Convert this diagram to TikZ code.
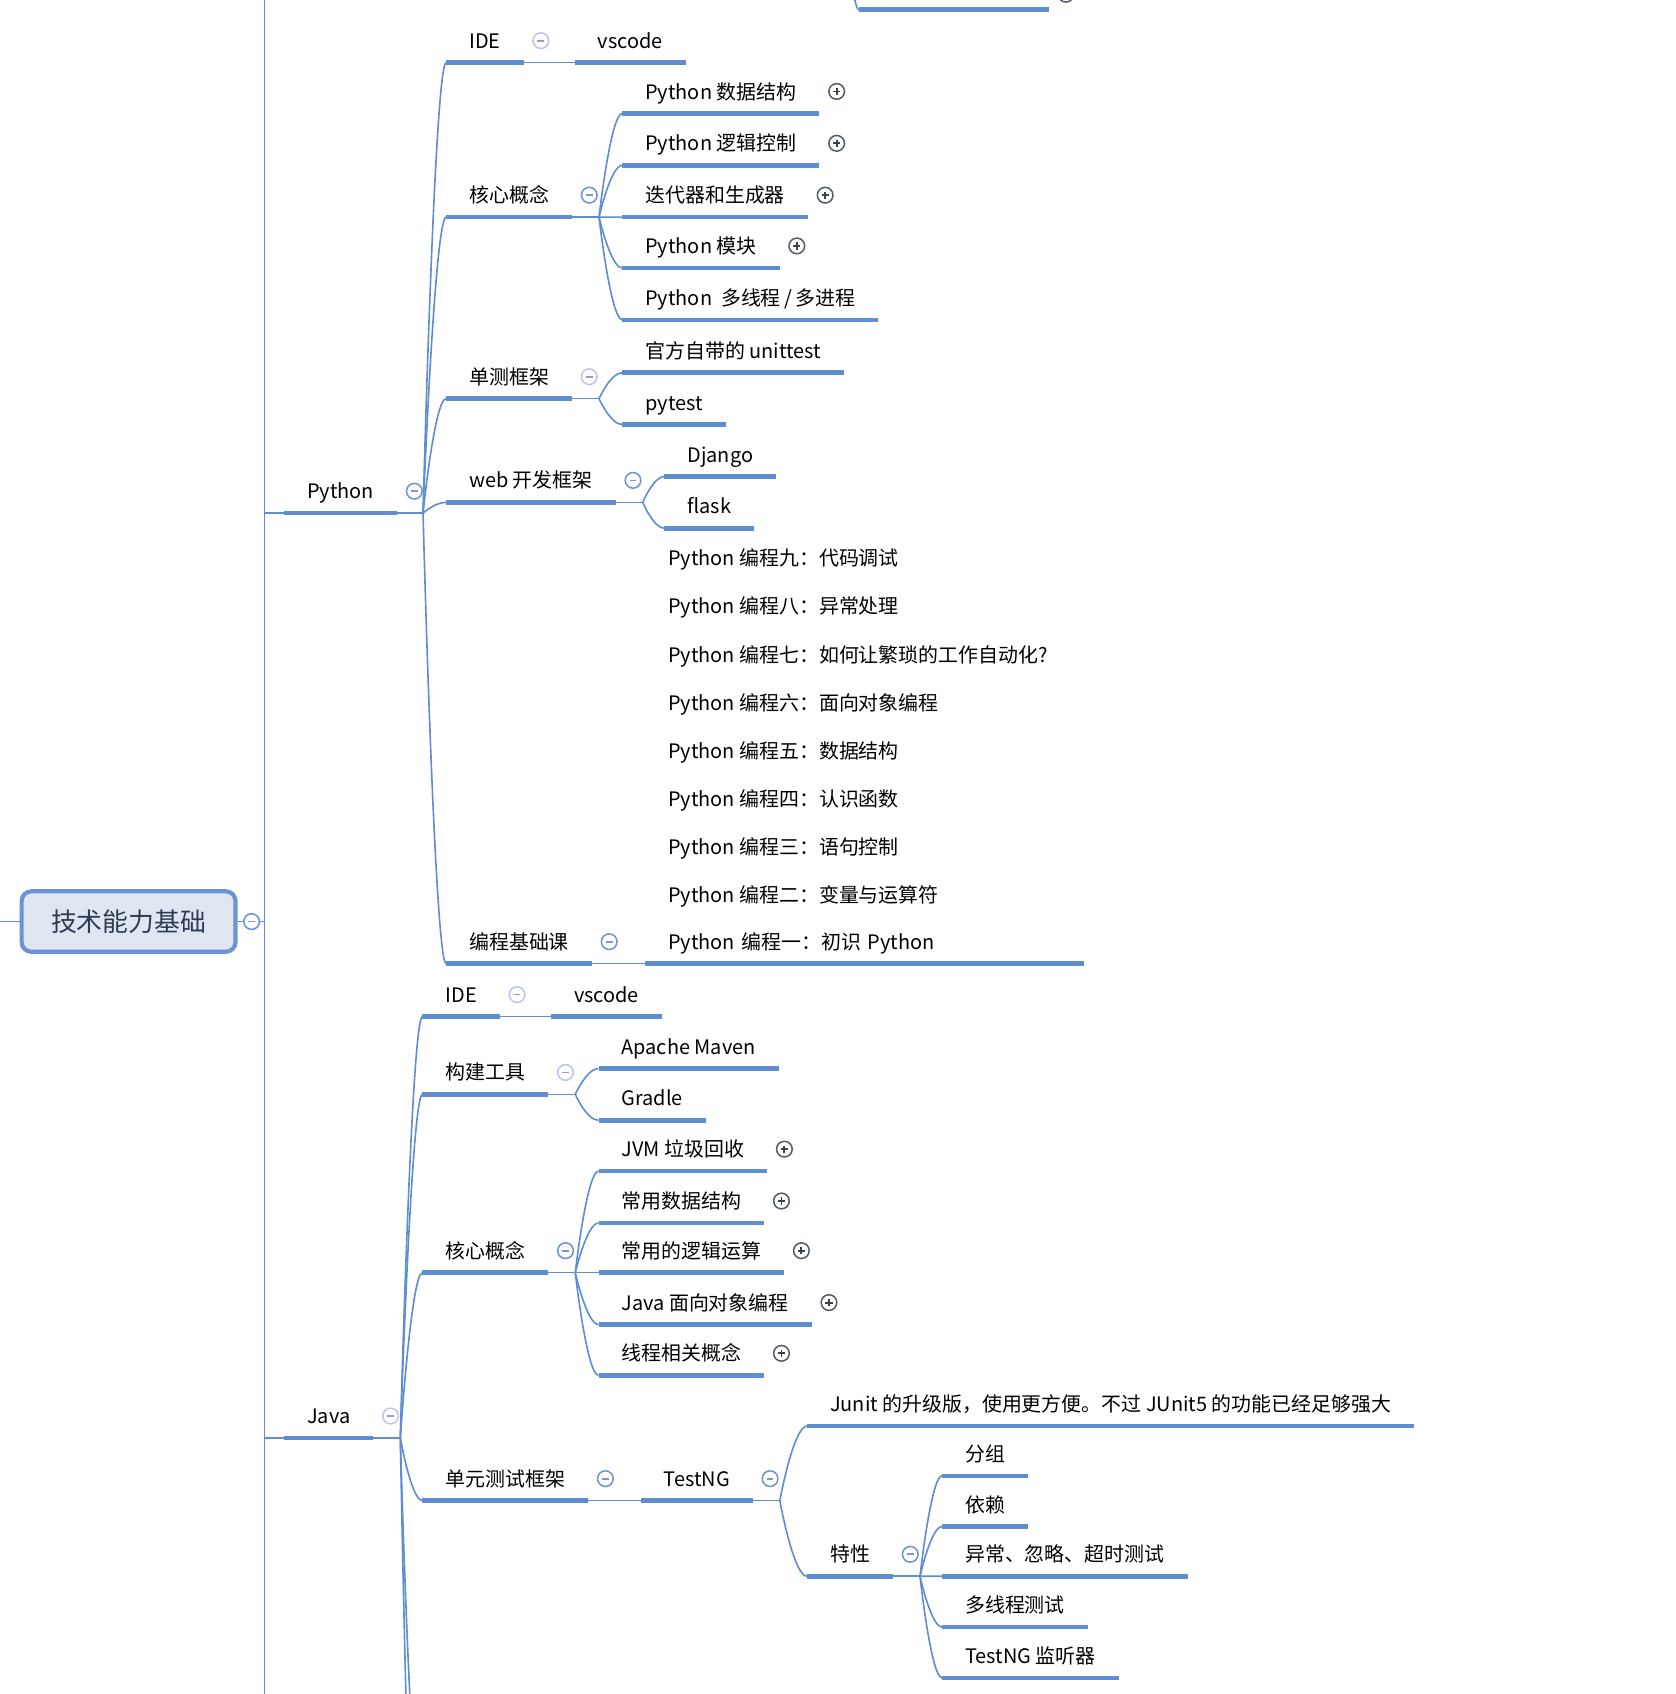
\documentclass[tikz,border=0pt]{standalone}
\usepackage{fontspec}
\setmainfont{Noto Sans CJK SC}
\usetikzlibrary{positioning,calc}
\definecolor{lineblue}{HTML}{5E8DD2}
\definecolor{rootfill}{HTML}{DFE6F2}
\definecolor{rootink}{HTML}{2F3B55}
\definecolor{foldblue}{HTML}{6C92D7}
\definecolor{foldbar}{HTML}{8494CC}
\definecolor{foldlight}{HTML}{BBC4EE}
\definecolor{foldlightbar}{HTML}{A294CC}
\definecolor{plusgray}{HTML}{525C6B}
\newcommand\topicfont{\fontsize{10.5pt}{12pt}\selectfont}
\tikzset{
  ln/.style={draw=lineblue, line width=0.85pt},
  ul/.style={draw=lineblue, line width=2.4pt},
  topic/.style={anchor=south west, inner xsep=0.42cm, inner ysep=0.16cm,
    text height=0.38cm, text depth=0.1cm, font=\topicfont, text=black},
  rootbox/.style={draw=foldblue, line width=2.2pt, fill=rootfill, rounded corners=0.18cm,
    minimum width=3.96cm, minimum height=1.12cm, text=rootink,
    font=\fontsize{13.6pt}{16pt}\selectfont},
  branch/.style={to path={.. controls (\tikztostart) and
    ($(\tikztostart |- \tikztotarget)!0.5!(\tikztotarget)$) .. (\tikztotarget)}},
  knob/.style={circle, fill=white, line width=0.8pt, minimum size=0.29cm, inner sep=0pt},
  fold/.style={knob, draw=foldblue, path picture={\draw[line width=0.9pt, foldbar]
    ([xshift=-1.8pt]path picture bounding box.center) -- ([xshift=1.8pt]path picture bounding box.center);}},
  foldlt/.style={knob, draw=foldlight, path picture={\draw[line width=0.9pt, foldlightbar]
    ([xshift=-1.8pt]path picture bounding box.center) -- ([xshift=1.8pt]path picture bounding box.center);}},
  unfold/.style={knob, draw=plusgray, path picture={\draw[line width=1pt, plusgray!70!black]
    ([xshift=-1.9pt]path picture bounding box.center) -- ([xshift=1.9pt]path picture bounding box.center)
    ([yshift=-1.9pt]path picture bounding box.center) -- ([yshift=1.9pt]path picture bounding box.center);}}
}
\begin{document}
\begin{tikzpicture}[x=0.02cm, y=-0.02cm]
\useasboundingbox (0,0) rectangle (1551,1568);
\clip (0,0) rectangle (1551,1568);
% root and trunk
\node[rootbox] (root) at (119,853) {技术能力基础};
\coordinate (trunk) at (245,0);
\coordinate (trunktop) at (245,-10);
\coordinate (trunkbot) at (245,1580);
\coordinate (rootin) at (0,853);
\draw[ln] (trunktop) -- (trunkbot);
\draw[ln] (rootin) -- (root.west);
\draw[ln] (root.east) -- (trunk |- root.east);
% branch cut at the top
\coordinate (topj) at (775,-200);
\node[topic, minimum width=3.5cm] (topcut) at (795,9) {};
% Python
\node[topic] (py) at (263,475) {Python};
\node[topic] (pyide) at (413,58) {IDE};
\node[topic] (pyvs) at (532,58) {vscode};
\node[topic] (pycore) at (413,201) {核心概念};
\node[topic] (pyc1) at (576,105) {Python 数据结构};
\node[topic] (pyc2) at (576,153) {Python 逻辑控制};
\node[topic] (pyc3) at (576,201) {迭代器和生成器};
\node[topic] (pyc4) at (576,248) {Python 模块};
\node[topic] (pyc5) at (576,296) {Python~~多线程\,/\,多进程};
\node[topic] (pyunit) at (413,369) {单测框架};
\node[topic] (pyu1) at (576,345) {官方自带的 unittest};
\node[topic] (pyu2) at (576,393) {pytest};
\node[topic] (pyweb) at (413,465) {web 开发框架};
\node[topic] (pyw1) at (615,441) {Django};
\node[topic] (pyw2) at (615,489) {flask};
\node[topic] (pybase) at (413,892) {编程基础课};
\node[topic, text width=7.28cm, align=left] (pyb1) at (597,892) {Python 编程一：初识 Python};
\foreach \t [count=\i] in {Python 编程九：代码调试, Python 编程八：异常处理,
    Python 编程七：如何让繁琐的工作自动化?, Python 编程六：面向对象编程,
    Python 编程五：数据结构, Python 编程四：认识函数, Python 编程三：语句控制,
    Python 编程二：变量与运算符}
  \node[topic] (pe\i) at (597,{537+44.57*(\i-1)}) {\t};
% Java
\node[topic] (java) at (263,1331) {Java};
\node[topic] (jide) at (391,941) {IDE};
\node[topic] (jvs) at (510,941) {vscode};
\node[topic] (jbuild) at (391,1013) {构建工具};
\node[topic] (jb1) at (554,989) {Apache Maven};
\node[topic] (jb2) at (554,1037) {Gradle};
\node[topic] (jcore) at (391,1178) {核心概念};
\node[topic] (jc1) at (554,1084) {JVM 垃圾回收};
\node[topic] (jc2) at (554,1132) {常用数据结构};
\node[topic] (jc3) at (554,1178) {常用的逻辑运算};
\node[topic] (jc4) at (554,1226) {Java 面向对象编程};
\node[topic] (jc5) at (554,1273) {线程相关概念};
\node[topic] (jtest) at (391,1389) {单元测试框架};
\node[topic] (jng) at (593,1389) {TestNG};
\node[topic] (jn1) at (747,1320) {Junit 的升级版，使用更方便。不过 JUnit5 的功能已经足够强大};
\node[topic] (jfeat) at (747,1459) {特性};
\node[topic] (jf1) at (872,1366) {分组};
\node[topic] (jf2) at (872,1413) {依赖};
\node[topic] (jf3) at (872,1459) {异常、忽略、超时测试};
\node[topic] (jf4) at (872,1506) {多线程测试};
\node[topic] (jf5) at (872,1553) {TestNG 监听器};
\coordinate (jmore1) at (391,1700);
\coordinate (jmore2) at (391,1900);
% underlines
\foreach \n in {topcut,py,pyide,pyvs,pycore,pyc1,pyc2,pyc3,pyc4,pyc5,pyunit,pyu1,pyu2,
    pyweb,pyw1,pyw2,pybase,pyb1,java,jide,jvs,jbuild,jb1,jb2,jcore,jc1,jc2,jc3,jc4,jc5,
    jtest,jng,jn1,jfeat,jf1,jf2,jf3,jf4,jf5}
  \draw[ul] (\n.south west) -- (\n.south east);
% connectors
\draw[ln] (topj) to[branch] (topcut.south west);
\draw[ln] (trunk |- py.south west) -- (py.south west);
\draw[ln] (trunk |- java.south west) -- (java.south west);
\coordinate (pyj) at ($(py.south east)+(24,0)$);
\draw[ln] (py.south east) -- (pyj);
\foreach \c in {pyide,pycore,pyunit,pyweb,pybase}
  \draw[ln] (pyj) to[branch] (\c.south west);
\draw[ln] (pyide.south east) -- (pyvs.south west);
\coordinate (pycorej) at ($(pycore.south east)+(25,0)$);
\draw[ln] (pycore.south east) -- (pycorej);
\foreach \c in {pyc1,pyc2,pyc3,pyc4,pyc5}
  \draw[ln] (pycorej) to[branch] (\c.south west);
\coordinate (pyunitj) at ($(pyunit.south east)+(25,0)$);
\draw[ln] (pyunit.south east) -- (pyunitj);
\foreach \c in {pyu1,pyu2}
  \draw[ln] (pyunitj) to[branch] (\c.south west);
\coordinate (pywebj) at ($(pyweb.south east)+(25,0)$);
\draw[ln] (pyweb.south east) -- (pywebj);
\foreach \c in {pyw1,pyw2}
  \draw[ln] (pywebj) to[branch] (\c.south west);
\draw[ln] (pybase.south east) -- (pyb1.south west);
\coordinate (javaj) at ($(java.south east)+(25,0)$);
\draw[ln] (java.south east) -- (javaj);
\foreach \c in {jide.south west,jbuild.south west,jcore.south west,jtest.south west,jmore1,jmore2}
  \draw[ln] (javaj) to[branch] (\c);
\draw[ln] (jide.south east) -- (jvs.south west);
\coordinate (jbuildj) at ($(jbuild.south east)+(25,0)$);
\draw[ln] (jbuild.south east) -- (jbuildj);
\foreach \c in {jb1,jb2}
  \draw[ln] (jbuildj) to[branch] (\c.south west);
\coordinate (jcorej) at ($(jcore.south east)+(25,0)$);
\draw[ln] (jcore.south east) -- (jcorej);
\foreach \c in {jc1,jc2,jc3,jc4,jc5}
  \draw[ln] (jcorej) to[branch] (\c.south west);
\draw[ln] (jtest.south east) -- (jng.south west);
\coordinate (jngj) at ($(jng.south east)+(25,0)$);
\draw[ln] (jng.south east) -- (jngj);
\foreach \c in {jn1,jfeat}
  \draw[ln] (jngj) to[branch] (\c.south west);
\coordinate (jfeatj) at ($(jfeat.south east)+(25,0)$);
\draw[ln] (jfeat.south east) -- (jfeatj);
\foreach \c in {jf1,jf2,jf3,jf4,jf5}
  \draw[ln] (jfeatj) to[branch] (\c.south west);
% collapse and expand buttons
\node[fold, right=0.1cm of root] (rootbtn) {};
\node[unfold, right=0.16cm of topcut, yshift=-0.12cm] {};
\foreach \n in {py,pycore,pyweb,pybase,jcore,jtest,jng,jfeat}
  \node[fold, right=0.16cm of \n] {};
\foreach \n in {pyide,pyunit,java,jide,jbuild}
  \node[foldlt, right=0.16cm of \n] {};
\foreach \n in {pyc1,pyc2,pyc3,pyc4,jc1,jc2,jc3,jc4,jc5}
  \node[unfold, right=0.16cm of \n] {};
\end{tikzpicture}
\end{document}
